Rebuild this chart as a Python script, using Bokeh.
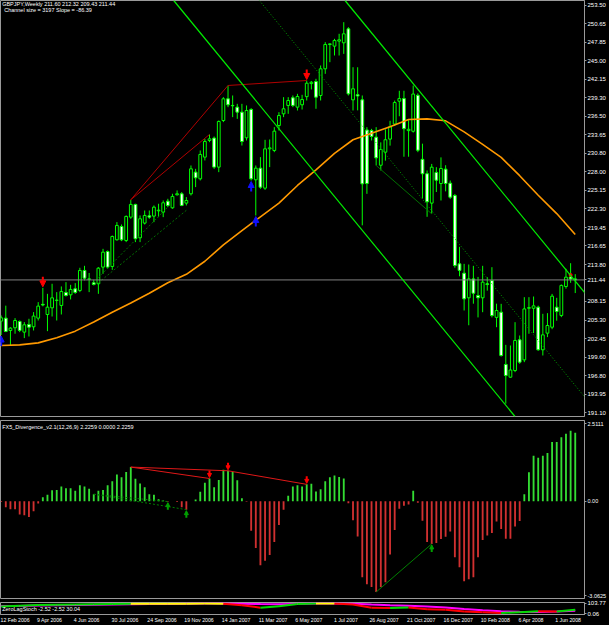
from bokeh.plotting import figure
from bokeh.layouts import column
from bokeh.models import (Range1d, FixedTicker, Slope, Span, Label, LinearAxis,
                          ColumnDataSource, PrintfTickFormatter, Arrow, NormalHead)
from bokeh.embed import file_html
from bokeh.resources import INLINE

# ---------------- data ----------------
title_text = "GBPJPY,Weekly  211.60 212.32 209.43 211.44"
channel_text = "Channel size = 3197 Slope = -86.39"
osma_title = "FX5_Divergence_v2.1(12,26,9) 2.2259 0.0000 2.2259"
stoch_title = "ZeroLagStoch -2.52 -2.52 30.04"

date_bars = [0, 8, 16, 24, 32, 40, 48, 56, 64, 72, 80, 88, 96, 104, 112, 120]
date_labels = ["12 Feb 2006", "9 Apr 2006", "4 Jun 2006", "30 Jul 2006", "24 Sep 2006",
               "19 Nov 2006", "14 Jan 2007", "11 Mar 2007", "6 May 2007", "1 Jul 2007",
               "26 Aug 2007", "21 Oct 2007", "16 Dec 2007", "10 Feb 2008", "6 Apr 2008",
               "1 Jun 2008"]

opens = [205.13, 205.59, 203.70, 204.11, 205.08, 203.45, 204.62, 204.26, 205.59, 207.70,
         206.15, 207.17, 208.30, 207.53, 209.52, 209.16, 210.08, 209.83, 212.89, 211.60,
         211.00, 210.85, 213.40, 215.79, 213.50, 217.58, 219.62, 217.48, 221.05, 223.00,
         217.89, 220.14, 221.26, 221.21, 222.02, 221.82, 223.50, 222.48, 224.47, 224.63,
         223.20, 224.63, 227.94, 226.92, 230.24, 232.79, 233.15, 228.71, 235.85, 239.17,
         238.15, 237.89, 237.13, 233.20, 237.53, 226.77, 228.55, 225.49, 231.51, 231.26,
         235.08, 236.87, 238.15, 239.32, 237.89, 238.25, 239.50, 241.50, 241.82, 239.68,
         243.76, 247.48, 247.23, 248.00, 247.74, 249.88, 239.01, 239.80, 239.01, 234.40,
         234.32, 233.30, 229.00, 231.00, 233.00, 235.30, 238.80, 239.20, 234.30, 234.20,
         239.70, 229.90, 227.70, 223.20, 227.90, 226.20, 228.40, 226.25, 224.36, 213.90,
         212.47, 208.70, 211.60, 209.05, 208.70, 210.85, 211.35, 205.70, 206.50, 198.50,
         196.55, 197.57, 202.27, 199.20, 207.10, 207.10, 207.27, 200.74, 203.29, 204.20,
         207.27, 206.00, 210.43, 211.90, 211.60]
highs = [206.00, 207.50, 204.20, 205.59, 205.23, 204.98, 205.49, 206.51, 208.04, 210.23,
         209.31, 210.85, 209.57, 210.44, 211.10, 210.69, 210.95, 213.30, 213.60, 212.50,
         211.46, 213.40, 216.20, 215.95, 218.24, 220.29, 219.93, 221.31, 223.71, 223.10,
         221.31, 222.07, 222.07, 222.84, 223.10, 223.60, 223.86, 224.63, 225.14, 224.88,
         224.12, 228.96, 228.45, 231.26, 233.04, 233.71, 233.40, 235.85, 239.42, 241.21,
         239.68, 238.40, 238.40, 238.15, 237.74, 228.96, 230.24, 232.89, 232.94, 234.83,
         237.12, 239.42, 239.42, 239.68, 239.93, 239.78, 241.97, 241.90, 242.23, 244.27,
         247.84, 247.69, 248.35, 249.12, 250.90, 250.14, 244.01, 244.00, 239.68, 234.83,
         234.57, 234.83, 232.50, 234.50, 235.80, 238.90, 240.40, 240.40, 235.90, 241.20,
         240.00, 232.30, 228.20, 229.20, 228.70, 230.20, 229.00, 226.66, 224.60, 216.50,
         213.90, 213.80, 213.60, 211.90, 213.60, 211.86, 213.39, 207.80, 207.78, 201.50,
         201.40, 204.97, 202.93, 208.80, 208.80, 208.90, 207.50, 206.25, 206.35, 209.30,
         208.70, 210.74, 213.14, 214.00, 212.32]
lows = [203.00, 203.45, 201.40, 203.20, 203.45, 202.53, 202.78, 203.70, 205.23, 207.40,
        203.60, 205.84, 205.23, 206.15, 208.90, 208.45, 209.31, 209.57, 211.36, 209.57,
        210.60, 209.31, 212.38, 213.14, 212.99, 217.48, 217.38, 217.23, 220.80, 217.23,
        217.23, 219.93, 220.80, 220.29, 221.05, 221.05, 222.58, 222.33, 224.37, 222.74,
        222.84, 224.37, 225.65, 226.67, 229.73, 232.53, 228.45, 227.94, 235.60, 237.89,
        236.36, 236.10, 232.02, 232.79, 226.66, 221.30, 225.39, 225.23, 228.71, 231.00,
        234.32, 236.36, 236.87, 237.89, 237.38, 237.53, 238.91, 240.60, 237.64, 238.91,
        242.99, 244.78, 245.80, 245.80, 246.05, 239.68, 237.38, 237.40, 219.80, 224.62,
        232.79, 228.96, 228.20, 229.70, 232.00, 235.00, 236.50, 230.30, 230.30, 234.00,
        231.00, 223.90, 221.10, 221.60, 224.90, 223.60, 225.00, 223.85, 213.30, 212.00,
        206.76, 204.50, 207.80, 205.70, 206.50, 209.80, 205.70, 204.20, 199.70, 192.50,
        196.45, 197.32, 198.60, 198.85, 203.20, 203.30, 200.60, 199.87, 202.68, 203.90,
        205.20, 205.74, 210.10, 211.00, 209.43]
closes = [205.64, 203.55, 204.06, 205.23, 203.70, 204.57, 204.21, 205.90, 207.43, 207.60,
          207.27, 208.70, 208.35, 209.67, 209.06, 209.98, 209.52, 212.89, 211.71, 211.55,
          210.74, 213.24, 215.69, 213.40, 218.09, 219.78, 217.58, 221.16, 223.00, 217.74,
          220.80, 221.31, 221.05, 222.58, 222.12, 223.25, 222.84, 224.22, 224.63, 222.84,
          223.60, 228.45, 227.08, 230.65, 232.64, 233.04, 228.71, 235.70, 239.17, 238.25,
          238.10, 237.13, 232.63, 237.38, 226.92, 228.55, 225.64, 231.51, 231.66, 234.22,
          236.61, 237.64, 238.91, 238.15, 239.52, 239.06, 241.56, 241.70, 239.42, 243.76,
          247.48, 247.58, 248.10, 248.20, 249.12, 239.93, 240.70, 239.60, 226.15, 226.20,
          233.40, 230.13, 231.40, 232.90, 234.90, 238.60, 239.20, 234.60, 234.50, 239.90,
          231.30, 227.70, 223.40, 228.70, 226.70, 228.50, 226.20, 224.11, 213.65, 212.90,
          208.54, 211.60, 209.40, 208.70, 211.10, 210.73, 205.99, 206.76, 199.87, 196.80,
          197.65, 202.17, 198.85, 207.00, 207.20, 207.47, 200.74, 203.03, 204.46, 208.95,
          206.60, 210.60, 211.86, 211.60, 211.44]

ma_bars = [0, 4, 8, 12, 16, 20, 24, 28, 32, 36, 40, 44, 48, 52, 56, 60, 64, 68, 72, 76,
           80, 84, 88, 92, 96, 100, 104, 108, 112, 116, 120, 124]
ma_values = [201.4, 201.5, 201.8, 202.6, 203.6, 205.0, 206.5, 207.9, 209.4, 211.0,
             212.3, 214.3, 216.8, 219.0, 221.1, 223.2, 225.9, 228.3, 230.8, 232.9,
             233.9, 234.9, 236.0, 236.1, 235.8, 234.1, 232.2, 230.2, 227.4, 224.4,
             221.6, 218.4]

channel_slope = -0.8639      # yen per bar (Slope = -86.39 points)
channel_size = 31.97         # yen (3197 points)
channel_mid_bar0 = 302.4     # middle line value at bar 0

price_ticks = [253.50, 250.65, 247.85, 245.00, 242.15, 239.30, 236.50, 233.65, 230.80,
               228.00, 225.15, 222.30, 219.45, 216.65, 213.80, 211.44, 208.15, 205.30,
               202.45, 199.60, 196.80, 193.95, 191.10]
last_price = 211.44

osma = [-0.02, -0.19, -0.26, -0.26, -0.43, -0.45, -0.51, -0.32, -0.07, 0.13,
        0.21, 0.36, 0.37, 0.48, 0.42, 0.42, 0.34, 0.52, 0.48, 0.41,
        0.23, 0.34, 0.37, 0.52, 0.65, 0.87, 0.78, 0.95, 1.11, 0.73,
        0.58, 0.46, 0.23, 0.21, 0.07, 0.03, -0.01, 0.00, -0.02, -0.19,
        -0.27, 0.00, 0.06, 0.31, 0.60, 0.74, 0.46, 0.69, 1.02, 0.99,
        0.95, 0.68, 0.10, -0.01, -0.95, -1.51, -2.07, -1.93, -1.74, -1.32,
        -0.77, -0.27, 0.18, 0.48, 0.52, 0.48, 0.55, 0.57, 0.32, 0.39,
        0.65, 0.78, 0.84, 0.79, 0.74, -0.06, -0.61, -1.14, -2.46, -2.69,
        -2.78, -2.94, -2.78, -2.62, -1.72, -0.93, -0.24, -0.14, -0.10, 0.34,
        -0.05, -0.63, -1.32, -1.38, -1.35, -1.22, -1.15, -0.98, -1.81, -2.14,
        -2.59, -2.53, -2.46, -1.81, -1.25, -1.11, -1.03, -0.65, -0.90, -1.21,
        -1.21, -0.82, -0.64, 0.23, 0.94, 1.48, 1.41, 1.48, 1.57, 1.92,
        1.92, 2.08, 2.19, 2.29, 2.2259]
osma_ticks = [2.5111, 0.0, -3.0625]
osma_tick_labels = ["2.5111", "0.00", "-3.0625"]

stoch_bars = [0, 4, 8, 12, 16, 20, 24, 28, 32, 36, 40, 44, 48, 52, 56, 60, 64, 68, 72, 76,
              80, 84, 88, 92, 96, 100, 104, 108, 112, 116, 120, 124]
stoch_main = [72, 80, 86, 90, 93, 95, 97, 99, 99, 100, 100, 101, 100, 85, 60, 75, 96, 102,
              103, 92, 60, 58, 62, 45, 40, 22, 15, 8, 15, 25, 22, 40]
stoch_signal = [76, 78, 82, 85, 88, 90, 92, 95, 97, 98, 100, 101, 101, 99, 96, 95, 98, 101,
                102, 100, 92, 85, 80, 72, 62, 48, 35, 25, 20, 18, 22, 30]
stoch_ticks = [103.77, 0.06]

# divergence lines: (bar1, value1, bar2, value2)
price_bear_lines = [(28, 223.71, 49, 241.21), (28, 223.71, 45, 233.71), (49, 241.21, 66, 241.97)]
price_bull_dotted = [(21, 211.0, 40, 222.1), (21, 211.8, 36, 222.6)]
price_bull_solid = [(81, 228.96, 93, 221.56)]
osma_bear_lines = [(28, 1.11, 49, 0.99), (28, 1.11, 45, 0.74), (49, 0.99, 66, 0.55)]
osma_bull_dotted = [(20, 0.23, 40, -0.27), (20, 0.23, 36, -0.01)]
osma_bull_solid = [(81, -2.94, 93, -1.38)]

price_down_arrows = [9, 66]
price_up_arrows = [0, 54, 55]
osma_down_arrows = [45, 49, 66]
osma_up_arrows = [36, 40, 93]

# ---------------- style ----------------
BG = "black"
FRAME = "#9a9a9a"
CANDLE = "#00ff00"
FONT = "Liberation Sans"
W = 609
PX_PER_BAR = 4.653
XR = Range1d(-0.144, 126.0)

def base_fig(height, y_range, top, bottom):
    p = figure(width=W, height=height, x_range=XR, y_range=y_range,
               output_backend="svg", toolbar_location=None,
               x_axis_location=None, y_axis_location="right",
               background_fill_color=BG, border_fill_color=BG,
               min_border_left=0, min_border_right=22,
               min_border_top=top, min_border_bottom=bottom)
    p.grid.visible = False
    p.outline_line_color = FRAME
    p.outline_line_width = 1
    ax = p.yaxis[0]
    ax.axis_line_color = FRAME
    ax.major_tick_line_color = FRAME
    ax.major_tick_out = 2
    ax.major_tick_in = 0
    ax.minor_tick_line_color = None
    ax.major_label_standoff = 1
    ax.major_label_text_color = "white"
    ax.major_label_text_font = FONT
    ax.major_label_text_font_size = "6px"
    return p

def add_arrows(p, bars, vals, color, down, unit, length, head):
    # MT4-style arrow: tip touches the value
    if down:
        ys, ye = [v + length * unit for v in vals], [v + 1 * unit for v in vals]
    else:
        ys, ye = [v - length * unit for v in vals], [v - 1 * unit for v in vals]
    src = ColumnDataSource(dict(x=bars, ys=ys, ye=ye))
    p.add_layout(Arrow(end=NormalHead(size=head, fill_color=color, line_color=color),
                       x_start="x", y_start="ys", x_end="x", y_end="ye", source=src,
                       line_color=color, line_width=2))

# ---------------- main price panel ----------------
p1 = base_fig(418, Range1d(190.53, 254.22), 0, 2)
p1.yaxis[0].ticker = FixedTicker(ticks=price_ticks)
p1.yaxis[0].formatter = PrintfTickFormatter(format="%.2f")
PX1 = (254.22 - 190.53) / 416

bars = list(range(len(opens)))
src = ColumnDataSource(dict(
    x=bars, high=highs, low=lows,
    top=[max(o, c) for o, c in zip(opens, closes)],
    bottom=[min(o, c) for o, c in zip(opens, closes)],
    fill=["black" if c >= o else "white" for o, c in zip(opens, closes)],
))
p1.add_layout(Span(location=last_price, dimension="width", line_color="#808080", line_width=1))
p1.segment(x0="x", y0="high", x1="x", y1="low", source=src, line_color=CANDLE, line_width=1)
p1.vbar(x="x", width=0.6, top="top", bottom="bottom", source=src,
        fill_color="fill", line_color=CANDLE, line_width=1)

p1.line(ma_bars, ma_values, line_color="#ff9900", line_width=1.6)

half = channel_size / 2
p1.add_layout(Slope(gradient=channel_slope, y_intercept=channel_mid_bar0 + half,
                    line_color="#00ee00", line_width=1.2))
p1.add_layout(Slope(gradient=channel_slope, y_intercept=channel_mid_bar0 - half,
                    line_color="#00ee00", line_width=1.2))
p1.add_layout(Slope(gradient=channel_slope, y_intercept=channel_mid_bar0,
                    line_color="#00a000", line_width=1, line_dash="1 2"))

for (a, va, b, vb) in price_bear_lines:
    p1.line([a, b], [va, vb], line_color="#b00000", line_width=1)
for (a, va, b, vb) in price_bull_dotted:
    p1.line([a, b], [va, vb], line_color="#007000", line_width=1, line_dash="2 2")
for (a, va, b, vb) in price_bull_solid:
    p1.line([a, b], [va, vb], line_color="#007000", line_width=1)

add_arrows(p1, price_down_arrows, [highs[i] for i in price_down_arrows], "#ff0000", True, PX1, 11, 6)
add_arrows(p1, price_up_arrows, [lows[i] for i in price_up_arrows], "#1010ff", False, PX1, 11, 6)
p1.scatter([123], [212.2], size=3, color="#ff0000")

p1.add_layout(Label(x=0, y=254.1, text=title_text, text_color="white", text_font=FONT,
                    text_font_size="5.5px", text_baseline="top", x_offset=1))
p1.add_layout(Label(x=0, y=254.1, text=channel_text, text_color="white", text_font=FONT,
                    text_font_size="5.5px", text_baseline="top", x_offset=3, y_offset=-6))

# ---------------- OsMA panel ----------------
p2 = base_fig(181, Range1d(-3.15, 2.62), 2, 1)
PX2 = (2.62 + 3.15) / 178
p2.yaxis[0].ticker = FixedTicker(ticks=osma_ticks)
p2.yaxis[0].major_label_overrides = {t: s for t, s in zip(osma_ticks, osma_tick_labels)}
p2.yaxis[0].major_label_text_font_size = "5.5px"
osrc = ColumnDataSource(dict(x=bars, top=osma,
                             color=["#33dd33" if v >= 0 else "#d03030" for v in osma]))
p2.vbar(x="x", width=0.4, top="top", bottom=0, source=osrc, fill_color="color", line_color=None)
for (a, va, b, vb) in osma_bear_lines:
    p2.line([a, b], [va, vb], line_color="#e01818", line_width=1)
for (a, va, b, vb) in osma_bull_dotted:
    p2.line([a, b], [va, vb], line_color="#008000", line_width=1, line_dash="2 2")
for (a, va, b, vb) in osma_bull_solid:
    p2.line([a, b], [va, vb], line_color="#008000", line_width=1)
add_arrows(p2, osma_down_arrows, [max(osma[i], 0) for i in osma_down_arrows], "#ff0000", True, PX2, 8, 4)
add_arrows(p2, osma_up_arrows, [min(osma[i], 0) for i in osma_up_arrows], "#00a000", False, PX2, 8, 4)
p2.add_layout(Label(x=0, y=2.62, text=osma_title, text_color="white", text_font=FONT,
                    text_font_size="5.5px", text_baseline="top", x_offset=1, y_offset=-3))

# ---------------- ZeroLagStoch panel ----------------
p3 = base_fig(26, Range1d(-8, 112), 3, 0)
p3.yaxis[0].ticker = FixedTicker(ticks=stoch_ticks)
p3.yaxis[0].formatter = PrintfTickFormatter(format="%.2f")
p3.line(stoch_bars, stoch_signal, line_color="#ff00ff", line_width=2)
segc = []
for i in range(len(stoch_main) - 1):
    d = stoch_main[i + 1] - stoch_main[i]
    segc.append("#00dd00" if d > 1 else ("#ff0000" if d < -1 else "#ffff00"))
p3.segment(x0=stoch_bars[:-1], y0=stoch_main[:-1], x1=stoch_bars[1:], y1=stoch_main[1:],
           line_color=segc, line_width=2)
p3.add_layout(Label(x=0, y=50, text=stoch_title, text_color="white", text_font=FONT,
                    text_font_size="5.5px", text_baseline="middle", x_offset=1))

# MT4 writes each date to the right of its bar: centre the label half a label-width right
DATE_FONT_PX = 5.2
tick_pos = [b + (0.49 * len(s) * DATE_FONT_PX / 2 - 1.3) / PX_PER_BAR
            for b, s in zip(date_bars, date_labels)]
xax = LinearAxis(ticker=FixedTicker(ticks=tick_pos),
                 major_label_overrides={t: s for t, s in zip(tick_pos, date_labels)})
xax.axis_line_color = FRAME
xax.major_tick_line_color = None
xax.major_tick_out = 0
xax.major_tick_in = 0
xax.minor_tick_line_color = None
xax.major_label_standoff = 2
xax.major_label_text_color = "white"
xax.major_label_text_font = FONT
xax.major_label_text_font_size = "%.1fpx" % DATE_FONT_PX
p3.add_layout(xax, "below")

layout = column(p1, p2, p3, spacing=0)
html = file_html(layout, INLINE, title="GBPJPY Weekly")
html = html.replace("<body>", "<body style=\"margin:0;background:black;\">")
open("out.html", "w").write(html)
